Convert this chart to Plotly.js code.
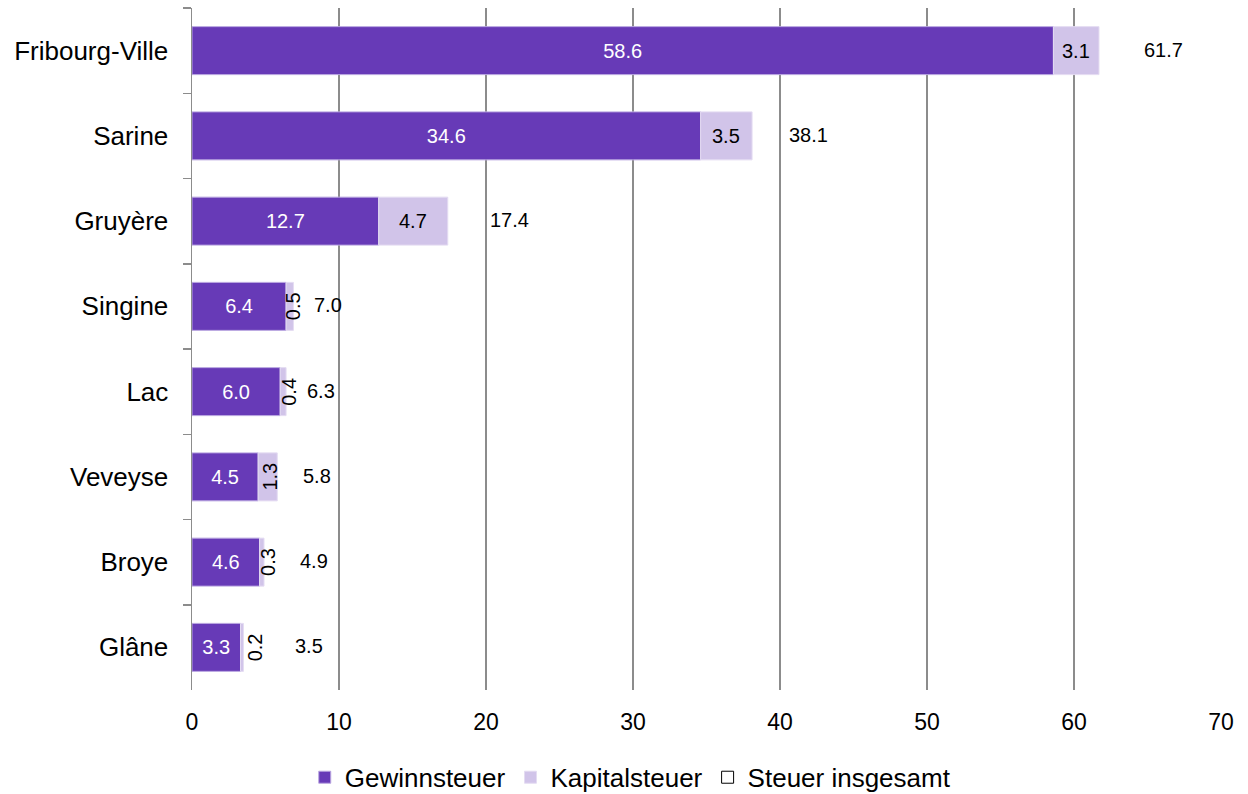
<!DOCTYPE html>
<html>
<head>
<meta charset="utf-8">
<script src="https://cdn.plot.ly/plotly-3.0.1.min.js"></script>
<style>html,body{margin:0;padding:0;background:#fff;}#chart{width:1248px;height:794px;}</style>
</head>
<body>
<div id="chart"></div>
<script>
// Data
var categories = ['Fribourg-Ville', 'Sarine', 'Gruyère', 'Singine', 'Lac', 'Veveyse', 'Broye', 'Glâne'];
var gewinnsteuer = [58.6, 34.6, 12.7, 6.4, 6.0, 4.5, 4.6, 3.3];
var kapitalsteuer = [3.1, 3.5, 4.7, 0.5, 0.4, 1.3, 0.3, 0.2];
var steuerInsgesamt = [61.7, 38.1, 17.4, 7.0, 6.3, 5.8, 4.9, 3.5];
var xTicks = [0, 10, 20, 30, 40, 50, 60, 70];

// Styles (label placement tweaks, in px / degrees)
var kapAngle = [0, 0, 0, -90, -90, -90, -90, -90];
var kapShift = [0, 0, 0, 4, 5, 2, 6, 13];
var totalShift = [65, 56, 62, 33, 36, 40, 50, 66];
// outline only used by the legend key; the total series has no visible fill (as in the original)
var totalLineWidth = [1, 0, 0, 0, 0, 0, 0, 0];

var FONT = 'Liberation Sans, Arial, sans-serif';
var DARK = '#673AB7';
var LIGHT = '#D1C4E9';

var traces = [
  {
    type: 'bar', orientation: 'h', name: 'Steuer insgesamt', legendrank: 3,
    y: categories, x: steuerInsgesamt, width: 0,
    marker: {color: '#ffffff', line: {color: '#000000', width: totalLineWidth}},
    hoverinfo: 'x+y+name'
  },
  {
    type: 'bar', orientation: 'h', name: 'Gewinnsteuer', legendrank: 1,
    y: categories, x: gewinnsteuer,
    marker: {color: DARK, line: {color: '#B9A6E0', width: 1}},
    text: gewinnsteuer.map(function (v) { return v.toFixed(1); }),
    textposition: 'inside', insidetextanchor: 'middle', textangle: 0,
    constraintext: 'none',
    textfont: {family: FONT, size: 20, color: '#ffffff'},
    hoverinfo: 'x+y+name'
  },
  {
    type: 'bar', orientation: 'h', name: 'Kapitalsteuer', legendrank: 2,
    y: categories, x: kapitalsteuer, base: gewinnsteuer,
    marker: {color: LIGHT, line: {color: '#E4DCF2', width: 1}},
    hoverinfo: 'x+y+name'
  }
];

var annotations = [];
categories.forEach(function (c, i) {
  annotations.push({
    x: gewinnsteuer[i] + kapitalsteuer[i] / 2, y: c, xref: 'x', yref: 'y',
    text: kapitalsteuer[i].toFixed(1), showarrow: false,
    textangle: kapAngle[i], xshift: kapShift[i],
    font: {family: FONT, size: 20, color: '#000000'}
  });
  annotations.push({
    x: steuerInsgesamt[i], y: c, xref: 'x', yref: 'y',
    text: steuerInsgesamt[i].toFixed(1), showarrow: false,
    xanchor: 'center', xshift: totalShift[i], yshift: 1,
    font: {family: FONT, size: 20, color: '#000000'}
  });
});

var layout = {
  width: 1248, height: 794,
  margin: {l: 192, r: 27, t: 8, b: 104, pad: 0},
  paper_bgcolor: '#ffffff', plot_bgcolor: '#ffffff',
  barmode: 'overlay',
  bargap: 0.437,
  font: {family: FONT, color: '#000000'},
  xaxis: {
    range: [0, 70], tickvals: xTicks, ticktext: xTicks.map(String),
    showgrid: true, gridcolor: '#8c8c8c', gridwidth: 1.5,
    zeroline: false, showline: false, ticks: '',
    ticklabelstandoff: 16,
    tickfont: {family: FONT, size: 23, color: '#000000'},
    fixedrange: true
  },
  yaxis: {
    type: 'category', autorange: 'reversed',
    showgrid: false, zeroline: false,
    showline: true, linecolor: '#8c8c8c', linewidth: 1.5,
    ticks: 'outside', tickson: 'boundaries', ticklen: 8, tickwidth: 1.5, tickcolor: '#8c8c8c',
    ticklabelstandoff: 17,
    tickfont: {family: FONT, size: 26, color: '#000000'},
    fixedrange: true
  },
  showlegend: true,
  legend: {
    orientation: 'h', xref: 'container', yref: 'container',
    x: 0.505, xanchor: 'center', y: 0.021, yanchor: 'middle',
    font: {family: FONT, size: 26, color: '#000000'},
    itemwidth: 30, traceorder: 'normal'
  },
  annotations: annotations
};

Plotly.newPlot('chart', traces, layout, {displayModeBar: false, staticPlot: true});
</script>
</body>
</html>
